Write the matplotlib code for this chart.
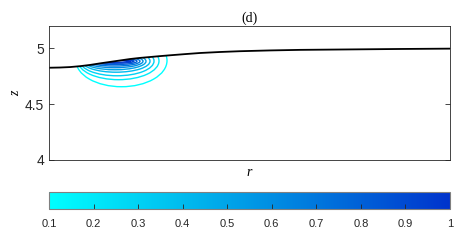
import numpy as np
import matplotlib
matplotlib.use("Agg")
import matplotlib.pyplot as plt
from matplotlib.patches import Ellipse, Polygon
from matplotlib.colors import LinearSegmentedColormap, Normalize
from matplotlib.cm import ScalarMappable

# free surface z(r)
r_surf = [0, .0274, .0524, .0773, .1022, .1272, .1521, .1771, .2020, .2269, .2519,
          .2768, .3017, .3392, .3766, .4264, .4763, .5511, .6259, .7506, .8753, 1.0]
z_surf = [4.826, 4.828, 4.832, 4.840, 4.851, 4.865, 4.878, 4.891, 4.904, 4.914, 4.922,
          4.930, 4.9375, 4.948, 4.958, 4.967, 4.974, 4.981, 4.986, 4.990, 4.994, 4.997]

levels = [0.1, 0.2, 0.3, 0.4, 0.5, 0.6, 0.7, 0.8, 0.9, 1.0]
arc_rc = [0.1808, 0.1733, 0.1696, 0.1671, 0.1646, 0.1633, 0.1633, 0.1633, 0.1633, 0.1646]
arc_a = [0.1135, 0.1010, 0.0923, 0.0848, 0.0773, 0.0711, 0.0636, 0.0561, 0.0486, 0.0399]
arc_zc = [4.890, 4.887, 4.886, 4.885, 4.884, 4.884, 4.884, 4.884, 4.884, 4.884]
arc_zb = [4.656, 4.719, 4.754, 4.786, 4.808, 4.826, 4.841, 4.854, 4.866, 4.875]

cb_ticks = [0.1, 0.2, 0.3, 0.4, 0.5, 0.6, 0.7, 0.8, 0.9, 1]
cb_labels = ['0.1', '0.2', '0.3', '0.4', '0.5', '0.6', '0.7', '0.8', '0.9', '1']

axcol = (0.15, 0.15, 0.15)
cmap = LinearSegmentedColormap.from_list('cyanblue', [(0, 1, 1), (0, 0.2, 0.8)])
norm = Normalize(0.1, 1)

plt.rcParams['font.family'] = 'Liberation Sans'

fig = plt.figure(figsize=(4.72, 2.45), dpi=100)
ax = fig.add_axes([0.1038, 0.347, 0.8496, 0.547])

# region below the surface, used to clip the arcs
clip = Polygon(list(zip(r_surf, z_surf)) + [(1, 3.9), (0, 3.9)], closed=True,
               transform=ax.transData, facecolor='none', edgecolor='none')
ax.add_patch(clip)

for lv, rc, a, zc, zb in zip(levels, arc_rc, arc_a, arc_zc, arc_zb):
    e = Ellipse((rc, zc), 2 * a, 2 * (zc - zb), fill=False,
                edgecolor=cmap(norm(lv)), linewidth=1.0)
    ax.add_patch(e)
    e.set_clip_path(clip)

ax.plot(r_surf, z_surf, color='k', linewidth=1.3)

ax.set_xlim(0, 1)
ax.set_ylim(4, 5.2)
ax.set_xticks([])
ax.set_yticks([4, 4.5, 5])
ax.set_yticklabels(['4', '4.5', '5'])
ax.tick_params(axis='y', direction='in', length=3.5, right=True, labelsize=10,
               colors=axcol, width=0.6)
for s in ax.spines.values():
    s.set_color(axcol)
    s.set_linewidth(0.6)
ax.set_title('(d)', family='Liberation Serif', fontsize=10, pad=3)
ax.set_xlabel('r', family='Liberation Serif', style='italic', fontsize=10, labelpad=4)
ax.set_ylabel('z', family='Liberation Serif', style='italic', fontsize=10, labelpad=2)

cax = fig.add_axes([0.1038, 0.147, 0.8496, 0.069])
cb = fig.colorbar(ScalarMappable(norm=norm, cmap=cmap), cax=cax, orientation='horizontal')
cb.set_ticks(cb_ticks)
cb.set_ticklabels(cb_labels)
cax.tick_params(direction='in', length=3.5, labelsize=8, colors=axcol, width=0.6, pad=7)
cb.outline.set_edgecolor((0.5, 0.5, 0.5))
cb.outline.set_linewidth(0.8)

fig.savefig('out.png', dpi=100)
